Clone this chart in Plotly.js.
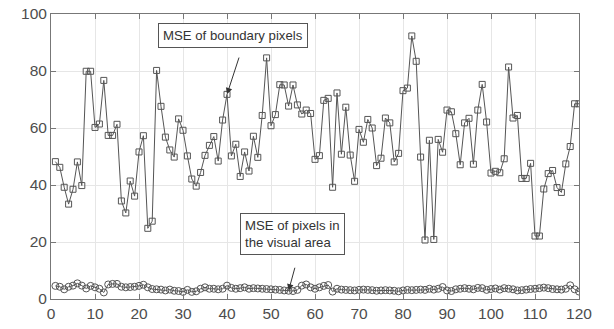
<!DOCTYPE html>
<html>
<head>
<meta charset="utf-8">
<script src="https://cdn.plot.ly/plotly-3.0.1.min.js"></script>
<style>html,body{margin:0;padding:0;background:#fff}#chart{width:614px;height:329px}</style>
</head>
<body>
<div id="chart"></div>
<script>
const frameIndex = Array.from({length: 120}, (_, i) => i + 1);
const boundaryMSE = [
  48.2,46.2,39.2,33.3,38.5,48.1,39.8,79.9,79.9,60.2,
  61.4,76.7,57.4,57.4,61.3,34.4,30.2,41.4,36.1,51.6,
  57.3,24.8,27.3,80.2,67.6,56.8,52.3,49.8,63.2,59.2,
  50.2,42.1,39.6,44.4,50.4,53.9,57.0,48.4,62.8,71.8,
  50.2,54.3,43.0,51.6,44.9,57.1,49.7,64.4,84.6,60.8,
  64.7,75.2,75.1,67.7,75.1,68.1,64.9,66.3,65.1,49.0,
  50.3,69.7,70.4,39.2,72.3,50.8,67.3,50.5,41.3,59.5,
  55.0,63.0,60.0,46.8,49.4,63.5,61.8,48.1,51.1,73.1,
  74.0,92.3,83.4,49.8,20.7,55.7,20.9,56.0,51.5,66.3,
  65.7,58.0,47.1,61.8,63.4,47.3,66.3,75.3,62.1,44.2,
  44.8,44.3,49.2,81.4,63.5,64.4,42.3,42.3,47.6,22.1,
  22.1,38.6,44.0,45.1,39.1,37.4,47.4,53.5,68.5,68.5
];
const visualMSE = [
  4.6,4.3,3.4,4.3,4.7,5.5,4.7,3.7,4.6,4.1,
  3.6,2.3,5.1,5.3,5.3,4.3,4.1,4.2,4.3,4.6,
  5.0,4.1,3.5,3.4,3.3,3.0,3.3,2.9,2.8,2.5,
  3.2,2.5,2.7,3.6,4.1,3.6,3.6,3.4,3.6,4.7,
  3.9,3.6,3.8,4.1,3.6,3.8,3.7,3.6,3.5,3.4,
  3.3,3.2,3.0,2.9,2.8,3.2,4.7,5.1,4.1,3.6,
  4.1,4.6,4.9,2.6,3.6,3.3,3.2,3.1,3.0,3.2,
  3.3,3.2,3.1,2.9,3.0,3.1,3.0,2.9,2.7,3.0,
  3.2,3.1,3.2,3.3,3.2,3.6,3.3,3.6,4.2,3.0,
  2.8,3.4,3.6,3.8,3.6,3.4,3.9,3.8,3.2,3.5,
  3.7,3.3,3.8,3.6,3.4,3.0,3.1,3.3,3.5,3.6,
  3.8,4.0,3.8,3.5,3.4,3.3,3.6,4.8,3.4,2.6
];
const xTicks = [0,10,20,30,40,50,60,70,80,90,100,110,120];
const yTicks = [0,20,40,60,80,100];
const boundaryLabel = 'MSE of boundary pixels';
const visualLabel = 'MSE of pixels in<br>the visual area';

const lineCol = '#555555';
const traces = [
  {x: frameIndex, y: boundaryMSE, type: 'scatter', mode: 'lines+markers',
   line: {color: lineCol, width: 1},
   marker: {symbol: 'square-open', size: 6, color: lineCol, line: {width: 1}},
   hoverinfo: 'none', showlegend: false},
  {x: frameIndex, y: visualMSE, type: 'scatter', mode: 'lines+markers',
   line: {color: lineCol, width: 1},
   marker: {symbol: 'circle-open', size: 7, color: lineCol, line: {width: 1}},
   hoverinfo: 'none', showlegend: false}
];
const axisCommon = {
  showline: true, linecolor: '#777', linewidth: 1, mirror: 'ticks',
  ticks: 'inside', ticklen: 5, tickcolor: '#777',
  showgrid: true, gridcolor: '#e6e6e6', gridwidth: 1, zeroline: false,
  tickfont: {family: 'Liberation Sans, Arial, sans-serif', size: 15.5, color: '#4d4d4d'}
};
const annFont = {family: 'Liberation Sans, Arial, sans-serif', size: 13.2, color: '#333'};
const layout = {
  width: 614, height: 329,
  margin: {l: 51, r: 35, t: 14, b: 30},
  paper_bgcolor: '#fff', plot_bgcolor: '#fff',
  xaxis: Object.assign({}, axisCommon, {range: [0, 120], tickvals: xTicks, ticktext: xTicks.map(String)}),
  yaxis: Object.assign({}, axisCommon, {range: [0, 100], tickvals: yTicks, ticktext: yTicks.map(String)}),
  annotations: [
    {x: 40, y: boundaryMSE[39], xref: 'x', yref: 'y', text: ' ', showarrow: true,
     ax: 15, ay: -46, arrowhead: 2, arrowsize: 1.3, arrowwidth: 1, arrowcolor: '#333'},
    {x: 54, y: visualMSE[53], xref: 'x', yref: 'y', text: ' ', showarrow: true,
     ax: 9, ay: -33, arrowhead: 2, arrowsize: 1.3, arrowwidth: 1, arrowcolor: '#333'},
    {x: 232.5, y: 35.5, xref: 'paper', yref: 'paper', text: boundaryLabel, showarrow: false,
     bordercolor: '#555', borderwidth: 1, bgcolor: '#fff', borderpad: 4, font: annFont},
    {x: 292, y: 234, xref: 'paper', yref: 'paper', text: visualLabel, showarrow: false, align: 'left',
     bordercolor: '#555', borderwidth: 1, bgcolor: '#fff', borderpad: 4, font: annFont}
  ]
};
// convert pixel positions of text boxes into paper coordinates
const pw = 614 - 51 - 35, ph = 329 - 14 - 30;
layout.annotations.forEach(a => {
  if (a.xref === 'paper') {
    a.x = (a.x - 51) / pw;
    a.y = 1 - (a.y - 14) / ph;
    a.xanchor = 'center'; a.yanchor = 'middle';
  }
});
Plotly.newPlot('chart', traces, layout, {staticPlot: true, displayModeBar: false});
</script>
</body>
</html>
